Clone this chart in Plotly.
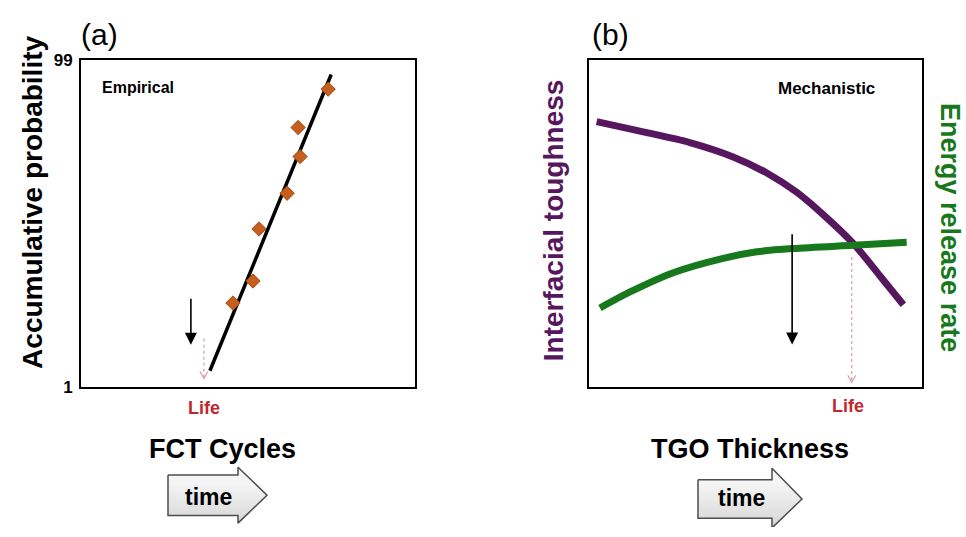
import plotly.graph_objects as go

# ---- Panel (a): empirical failure probability vs FCT cycles ----
fct_cycles = [4.55, 5.15, 5.33, 6.17, 6.56, 6.50, 7.40]
failure_prob = [26.2, 32.8, 48.4, 59.1, 70.1, 78.8, 90.3]
fit_cycles = [3.86, 7.49]
fit_prob = [5.9, 94.7]
prob_ticks = [1, 99]
prob_ticktext = ["1", "99"]
# arrow marking the predicted life (x, y_start, y_end)
life_a = [3.68, 15.5, 3.6]
drop_a = [3.29, 27.9, 13.7]

# ---- Panel (b): mechanistic model vs TGO thickness ----
tgo = [0.23, 1.53, 3.03, 4.33, 5.34, 6.24, 7.04, 7.94, 8.74, 9.44]
toughness = [8.12, 7.83, 7.48, 7.04, 6.55, 5.96, 5.27, 4.39, 3.40, 2.52]
tgo_err = [0.33, 1.23, 2.53, 4.03, 5.04, 6.14, 7.94, 9.54]
energy_release = [2.42, 2.91, 3.50, 3.94, 4.14, 4.24, 4.34, 4.43]
life_b = [7.89, 3.98, 0.15]
drop_b = [6.10, 4.72, 1.30]

# block "time" arrows, in page pixels: body x0, x1, body y0, y1, head y0, y1, tip x
time_arrows = [
    [168, 238, 483, 525, 475, 533, 267],
    [698, 772, 488, 528, 476, 538, 802],
]

W, H = 966, 537
FONT = "Arial, Liberation Sans, sans-serif"
PURPLE = "#57175f"
GREEN = "#17781c"
RED = "#c0282e"
ORANGE = "#c65e1c"
PINK = "#d99aa3"

fig = go.Figure()

fig.add_trace(go.Scatter(x=fit_cycles, y=fit_prob, mode="lines",
                         line=dict(color="black", width=3.5),
                         xaxis="x", yaxis="y", showlegend=False))
fig.add_trace(go.Scatter(x=fct_cycles, y=failure_prob, mode="markers",
                         marker=dict(symbol="diamond", size=11, color=ORANGE,
                                     line=dict(color="#a04a12", width=1)),
                         xaxis="x", yaxis="y", showlegend=False))

fig.add_trace(go.Scatter(x=tgo, y=toughness, mode="lines", line_shape="spline",
                         line=dict(color=PURPLE, width=7, smoothing=0.8),
                         xaxis="x2", yaxis="y2", showlegend=False))
fig.add_trace(go.Scatter(x=tgo_err, y=energy_release, mode="lines", line_shape="spline",
                         line=dict(color=GREEN, width=7, smoothing=0.8),
                         xaxis="x2", yaxis="y2", showlegend=False))

# gradient-filled "time" block arrows on a full-page overlay axis
for bx0, bx1, by0, by1, hy0, hy1, tip in time_arrows:
    mid = (by0 + by1) / 2
    xs = [bx0, bx1, bx1, tip, bx1, bx1, bx0, bx0]
    ys = [by0, by0, hy0, mid, hy1, by1, by1, by0]
    fig.add_trace(go.Scatter(
        x=xs, y=ys, mode="lines", fill="toself",
        fillgradient=dict(type="vertical", start=hy0, stop=hy1,
                          colorscale=[[0, "#f4f4f4"], [0.55, "#dcdcdc"], [1, "#a9a9a9"]]),
        line=dict(color="#4d4d4d", width=1.5),
        xaxis="x3", yaxis="y3", showlegend=False, hoverinfo="skip"))

ydom = [1 - 392 / H, 1 - 53 / H]
frame = dict(showline=True, linewidth=2, linecolor="black", mirror=True,
             showgrid=False, zeroline=False, ticks="")

fig.update_layout(
    width=W, height=H,
    margin=dict(l=0, r=0, t=0, b=0),
    paper_bgcolor="white", plot_bgcolor="rgba(0,0,0,0)",
    font=dict(family=FONT, color="black"),
    xaxis=dict(domain=[81 / W, 415 / W], range=[0, 10], showticklabels=False, **frame),
    yaxis=dict(domain=ydom, range=[1, 99], tickvals=prob_ticks, ticktext=prob_ticktext,
               tickfont=dict(size=17, weight="bold", family=FONT), ticklabelstandoff=3, **frame),
    xaxis2=dict(domain=[589 / W, 922 / W], range=[0, 10], showticklabels=False,
                anchor="y2", **frame),
    yaxis2=dict(domain=ydom, range=[0, 10], showticklabels=False, anchor="x2", **frame),
    xaxis3=dict(domain=[0, 1], range=[0, W], visible=False, fixedrange=True),
    yaxis3=dict(domain=[0, 1], range=[H, 0], visible=False, fixedrange=True, anchor="x3"),
)


def label(text, px, py, size, color="black", bold=True, angle=0):
    fig.add_annotation(text=text, x=px / W, y=1 - py / H, xref="paper", yref="paper",
                       showarrow=False, textangle=angle, xanchor="center", yanchor="middle",
                       font=dict(family=FONT, size=size, color=color,
                                 weight="bold" if bold else "normal"))


label("(a)", 99, 26, 30, bold=False)
label("(b)", 610, 26, 30, bold=False)
label("Accumulative probability", 33, 201, 28, angle=-90)
label("Interfacial toughness", 553, 219, 28, color=PURPLE, angle=-90)
label("Energy release rate", 950, 226, 27, color=GREEN, angle=90)
label("Empirical", 138, 81, 16)
label("Mechanistic", 826, 82, 17)
label("Life", 204, 414, 18, color=RED)
label("Life", 848, 412, 18, color=RED)
label("FCT Cycles", 222, 456, 27)
label("TGO Thickness", 750, 456, 27)
label("time", 208, 506, 23)
label("time", 741, 507, 23)

# black downward arrows
for (ax_x, y0, y1), xr, yr in [(drop_a, "x", "y"), (drop_b, "x2", "y2")]:
    fig.add_annotation(x=ax_x, y=y1, ax=ax_x, ay=y0, xref=xr, yref=yr, axref=xr, ayref=yr,
                       showarrow=True, arrowhead=2, arrowsize=1.5, arrowwidth=1.6,
                       arrowcolor="black", standoff=0, text="")

# dotted "life" arrows with open heads
for (lx, y0, y1), xr, yr in [(life_a, "x", "y"), (life_b, "x2", "y2")]:
    fig.add_shape(type="line", x0=lx, x1=lx, y0=y0, y1=y1, xref=xr, yref=yr,
                  line=dict(color=PINK, width=1.2, dash="dot"))
    fig.add_shape(type="path", xref=xr, yref=yr, xsizemode="pixel", ysizemode="pixel",
                  xanchor=lx, yanchor=y1, path="M -4,7 L 0,0 L 4,7",
                  line=dict(color=PINK, width=1.2))

fig.write_html("out.html")
